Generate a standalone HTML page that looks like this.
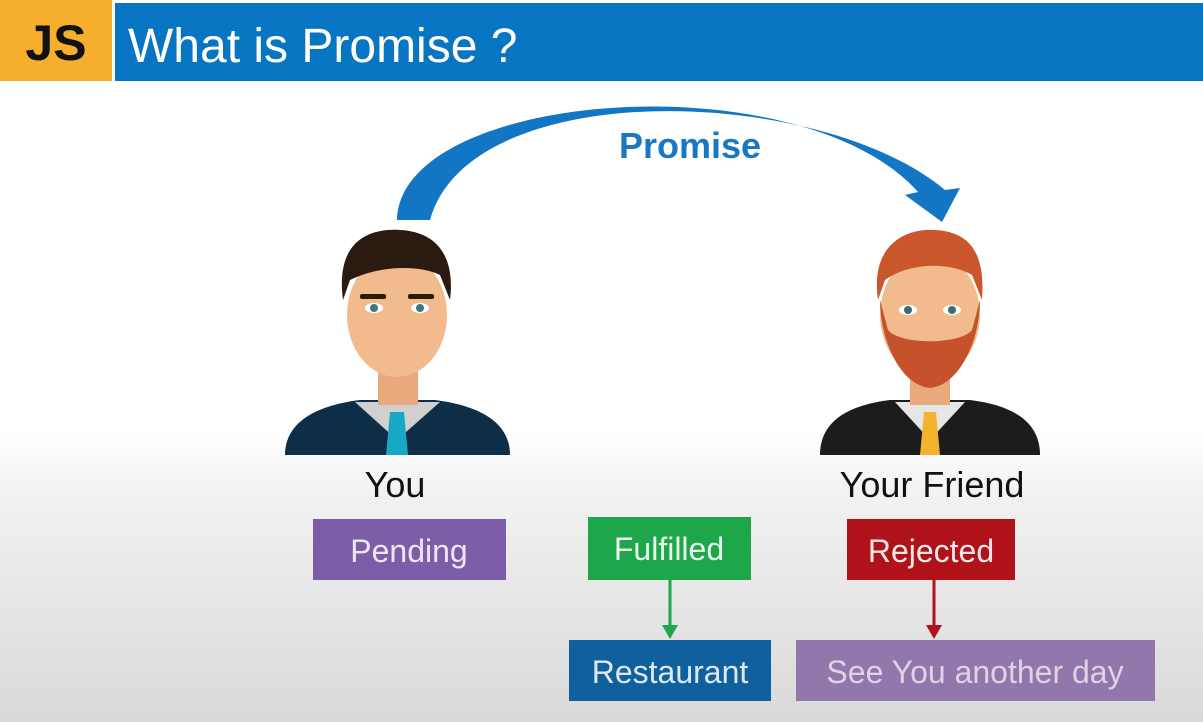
<!DOCTYPE html>
<html><head><meta charset="utf-8"><style>
html,body{margin:0;padding:0;width:1203px;height:722px;overflow:hidden;font-family:"Liberation Sans",sans-serif}
svg{display:block}
</style></head><body>
<svg width="1203" height="722" viewBox="0 0 1203 722">
<defs>
<linearGradient id="bg" x1="0" y1="0" x2="0" y2="1">
<stop offset="0" stop-color="#ffffff"/><stop offset="0.6" stop-color="#ffffff"/><stop offset="0.68" stop-color="#f2f2f2"/><stop offset="1" stop-color="#d9d9d9"/>
</linearGradient>
</defs>
<rect width="1203" height="722" fill="url(#bg)"/>
<rect x="0" y="0" width="112" height="81" fill="#f6ae2d"/>
<text x="56" y="60" text-anchor="middle" font-size="50" font-weight="bold" fill="#111">JS</text>
<rect x="115" y="3" width="1088" height="78" fill="#0775c2"/>
<text x="128" y="62" font-size="48" fill="#fff">What is Promise ?</text>

<path d="M397,220 C400,90 800,60 918,192 L905,195 L942,222 L960,188 L945,190 C820,85 470,75 430,220 Z" fill="#1276c4"/>
<text x="690" y="158" text-anchor="middle" font-size="36" font-weight="bold" fill="#1a78c2">Promise</text>

<g>
<path d="M285,455 C285,420 320,405 360,400 L435,400 C475,405 510,420 510,455 Z" fill="#0e2e48"/>
<path d="M355,402 L397,440 L440,402 Z" fill="#d0d0d0"/>
<path d="M390,412 L404,412 L408,455 L386,455 Z" fill="#17a9c4"/>
<rect x="378" y="360" width="40" height="45" fill="#e8a97c"/>
<ellipse cx="397" cy="315" rx="50" ry="62" fill="#f2bb8e"/>
<path d="M343,300 C335,240 370,228 400,230 C440,232 455,260 450,300 L440,275 C420,265 380,265 350,280 Z" fill="#2a1a10"/>
<ellipse cx="374" cy="308" rx="9" ry="5" fill="#fff"/><circle cx="374" cy="308" r="4" fill="#3b7a80"/>
<ellipse cx="420" cy="308" rx="9" ry="5" fill="#fff"/><circle cx="420" cy="308" r="4" fill="#3b7a80"/>
<rect x="360" y="294" width="26" height="5" rx="2" fill="#2a1a10"/><rect x="408" y="294" width="26" height="5" rx="2" fill="#2a1a10"/>
</g>
<text x="395" y="497" text-anchor="middle" font-size="36" fill="#111">You</text>

<g>
<path d="M820,455 C820,420 850,405 890,400 L970,400 C1010,405 1040,420 1040,455 Z" fill="#1c1c1c"/>
<path d="M895,402 L930,440 L965,402 Z" fill="#e6e6e6"/>
<path d="M924,412 L936,412 L940,455 L920,455 Z" fill="#f3b32c"/>
<rect x="910" y="360" width="40" height="45" fill="#e8a97c"/>
<ellipse cx="930" cy="315" rx="50" ry="62" fill="#f2bb8e"/>
<path d="M880,300 C880,340 900,385 930,388 C960,385 980,340 980,300 L972,330 C960,345 900,345 888,330 Z" fill="#c5522a"/>
<path d="M878,300 C870,245 905,228 935,230 C975,232 985,260 982,300 L972,275 C950,262 910,262 885,280 Z" fill="#c9572b"/>
<ellipse cx="908" cy="310" rx="9" ry="5" fill="#fff"/><circle cx="908" cy="310" r="4" fill="#3b6a70"/>
<ellipse cx="952" cy="310" rx="9" ry="5" fill="#fff"/><circle cx="952" cy="310" r="4" fill="#3b6a70"/>
</g>
<text x="932" y="497" text-anchor="middle" font-size="36" fill="#111">Your Friend</text>

<rect x="313" y="519" width="193" height="61" fill="#7b5ea7"/>
<text x="409" y="562" text-anchor="middle" font-size="32" fill="#ece6f5">Pending</text>
<rect x="588" y="517" width="163" height="63" fill="#1ea64b"/>
<text x="669" y="560" text-anchor="middle" font-size="32" fill="#eaf7ee">Fulfilled</text>
<rect x="847" y="519" width="168" height="61" fill="#b01219"/>
<text x="931" y="562" text-anchor="middle" font-size="32" fill="#f7e8e8">Rejected</text>

<line x1="670" y1="580" x2="670" y2="627" stroke="#1ea64b" stroke-width="3"/>
<path d="M662,625 L678,625 L670,639 Z" fill="#1ea64b"/>
<line x1="934" y1="580" x2="934" y2="627" stroke="#b01219" stroke-width="3"/>
<path d="M926,625 L942,625 L934,639 Z" fill="#b01219"/>

<rect x="569" y="640" width="202" height="61" fill="#10609e"/>
<text x="670" y="683" text-anchor="middle" font-size="32" fill="#dde8f2">Restaurant</text>
<rect x="796" y="640" width="359" height="61" fill="#9277ac"/>
<text x="975" y="683" text-anchor="middle" font-size="32" fill="#dcd4e4">See You another day</text>
</svg>
</body></html>
